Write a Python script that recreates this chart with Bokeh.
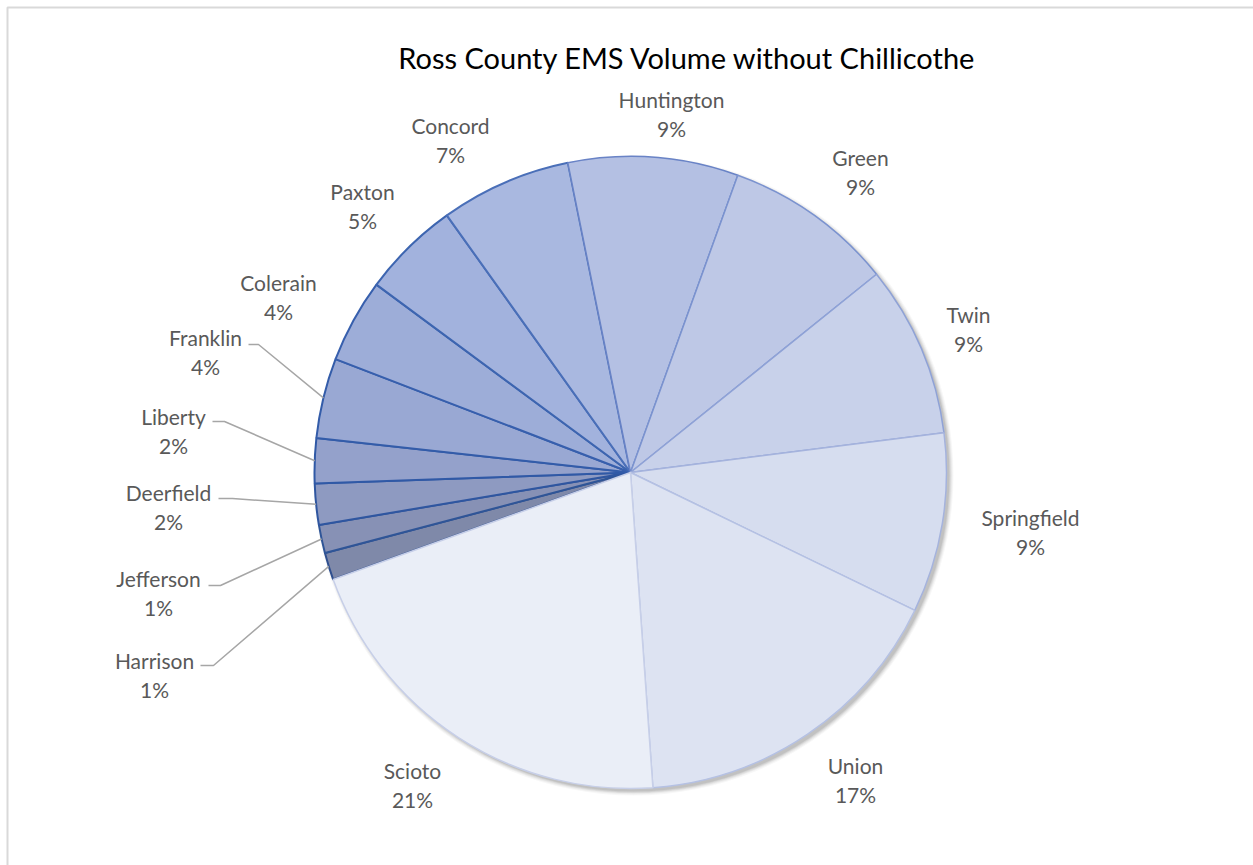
import math
from bokeh.plotting import figure
from bokeh.models import Range1d, ColumnDataSource
from bokeh.core.properties import value
from bokeh.embed import file_html
from bokeh.resources import INLINE

# ---------------- data ----------------
categories = ["Harrison", "Jefferson", "Deerfield", "Liberty", "Franklin", "Colerain",
              "Paxton", "Concord", "Huntington", "Green", "Twin", "Springfield",
              "Union", "Scioto"]
shares = [1.4, 1.45, 2.1, 2.3, 4.1, 4.3, 5.0, 6.7, 8.7, 8.7, 8.8, 9.2, 16.7, 20.65]
title_text = "Ross County EMS Volume without Chillicothe"

# ---------------- style / layout ----------------
W, H = 1253, 865
CX, CY_PX, R = 630, 472, 316
START_BEARING = 250.2  # degrees clockwise from 12 o'clock where the first slice begins

fills = ["#7f89a9", "#8791b5", "#8e9ac1", "#94a1cb", "#99a8d3", "#9dadd8", "#a2b2dd",
         "#a9b8e0", "#b4c0e3", "#bec8e6", "#c8d1ea", "#d6ddef", "#dde3f2", "#eaeef7"]
edges = ["#2f4f8f", "#2f5597", "#2f56a0", "#3059a6", "#335ca9", "#375fad", "#3d65b0",
         "#4a6fb8", "#6983c6", "#7b93cf", "#8fa2d6", "#a5b3dd", "#b5c1e3", "#c7cfe8"]

# label centres (pixel coords, name line) - layout only
label_xy = [(154, 660), (158, 578), (168, 492), (173, 416), (205, 337), (278, 282),
            (362, 191), (450, 125), (671, 99), (860, 157), (968, 314), (1030, 517),
            (855, 765), (412, 770)]
LINE_GAP = 29
# leader line label-side anchors (pixel coords) for the small slices
leader_start = {0: (200, 665), 1: (208, 585), 2: (218, 498), 3: (212, 421), 4: (248, 344)}
leader_knee = {0: (213, 665), 1: (220, 585), 2: (232, 498), 3: (224, 421), 4: (258, 344)}

FONT = "Lato"
TXT = "#595959"


def fy(ypx):
    return H - ypx


p = figure(width=W, height=H, x_range=Range1d(0, W), y_range=Range1d(0, H),
           output_backend="svg", toolbar_location=None, min_border=0)
p.axis.visible = False
p.grid.visible = False
p.outline_line_color = None
p.background_fill_color = "white"
p.border_fill_color = "white"

# chart-area border (clipped on the right/bottom like the reference)
p.line([7, 7, W + 5], [-5, fy(7), fy(7)], line_color="#d9d9d9", line_width=2)

# shadow
cy = fy(CY_PX)
for k, a in [(6, 0.03), (5, 0.04), (4, 0.05), (3, 0.06), (2, 0.08)]:
    p.circle(x=[CX + 3], y=[cy - 3], radius=R + k - 2, fill_color="#000000",
             fill_alpha=a, line_color=None)

total = sum(shares)
starts, ends, mids = [], [], []
acc = 0.0
for v in shares:
    b0 = START_BEARING + acc / total * 360
    acc += v
    b1 = START_BEARING + acc / total * 360
    starts.append(math.radians(90 - b0))
    ends.append(math.radians(90 - b1))
    mids.append((b0 + b1) / 2)

src = ColumnDataSource(dict(cat=categories, start=starts, end=ends, fill=fills,
                            edge=edges, lw=[2] * 8 + [1.5] * 6))
p.wedge(x=CX, y=cy, radius=R, start_angle="start", end_angle="end",
        direction="clock", fill_color="fill", line_color="edge", line_width="lw",
        source=src)

# leader lines
for i in leader_start:
    b = math.radians(mids[i])
    ex = CX + R * math.sin(b)
    ey = CY_PX - R * math.cos(b)
    xs = [leader_start[i][0], leader_knee[i][0], ex]
    ys = [fy(leader_start[i][1]), fy(leader_knee[i][1]), fy(ey)]
    p.line(xs, ys, line_color="#a6a6a6", line_width=1.5)

# labels
pcts = [f"{int(v / total * 100 + 0.5)}%" for v in shares]
names_src = ColumnDataSource(dict(x=[xy[0] for xy in label_xy],
                                  y=[fy(xy[1]) for xy in label_xy], t=categories))
pct_src = ColumnDataSource(dict(x=[xy[0] for xy in label_xy],
                                y=[fy(xy[1] + LINE_GAP) for xy in label_xy], t=pcts))
for s in (names_src, pct_src):
    p.text(x="x", y="y", text="t", source=s, text_align="center",
           text_baseline="middle", text_font=value(FONT), text_font_size="21px",
           text_color=TXT)

# title
p.text(x=[687], y=[fy(57)], text=[title_text], text_align="center",
       text_baseline="middle", text_font=value(FONT), text_font_size="29px",
       text_color="#000000")

open("out.html", "w").write(file_html(p, INLINE))
